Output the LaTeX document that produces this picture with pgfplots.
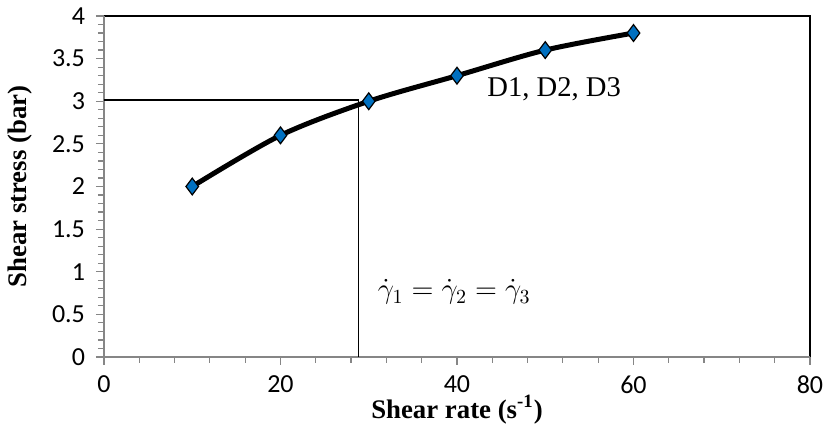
\documentclass[border=0pt]{standalone}
\usepackage{pgfplots}
\pgfplotsset{compat=1.18}
\usepackage{fontspec}
\setmainfont{Liberation Serif}
\newfontfamily\calibri{Carlito}
\definecolor{mkblue}{HTML}{0070C0}
\definecolor{axgray}{HTML}{868686}
\begin{document}
\begin{tikzpicture}
\begin{axis}[
  at={(0,0)}, anchor=south west,
  scale only axis, width=353pt, height=170.5pt,
  xmin=0, xmax=80, ymin=0, ymax=4,
  xtick={0,20,40,60,80}, ytick={0,0.5,1,1.5,2,2.5,3,3.5,4},
  minor x tick num=4, minor y tick num=4,
  tick align=outside, xtick pos=left, ytick pos=left,
  major tick length=4pt, minor tick length=3pt,
  tick style={axgray, line width=0.6pt},
  axis line style={draw=none},
  /pgf/number format/assume math mode=true,
  tick label style={font=\calibri\fontsize{13}{15}\selectfont},
  yticklabel style={xshift=-2pt},
  xticklabel style={yshift=-2pt},
  xlabel={\bfseries Shear rate (s\textsuperscript{-1})},
  ylabel={\bfseries Shear stress (bar)},
  label style={font=\fontsize{13.4}{15}\selectfont},
  xlabel style={at={(axis description cs:0.5,-0.155)}, anchor=center},
  ylabel style={at={(axis description cs:-0.119,0.5)}, anchor=center},
  clip=false,
]
\draw[black, line width=0.6pt] (rel axis cs:0,1) -- (rel axis cs:1,1) -- (rel axis cs:1,0);
\draw[axgray, line width=0.8pt] (rel axis cs:0,1) -- (rel axis cs:0,0) -- (rel axis cs:1,0);
\addplot[black, line width=0.6pt] coordinates {(0,3.015) (28.8,3.015) (28.8,0)};
\addplot[black, line width=2.5pt, smooth, tension=0.5] coordinates {
(10,2) (20,2.6) (30,3) (40,3.3) (50,3.6) (60,3.8)};
\addplot[only marks, mark=diamond*, mark size=4.2pt, mark options={fill=mkblue, draw=black, line width=0.6pt}] coordinates {
(10,2) (20,2.6) (30,3) (40,3.3) (50,3.6) (60,3.8)};
\node[anchor=base west, inner sep=0pt, font=\fontsize{14.3}{16}\selectfont] at (axis cs:43.4,3.053) {D1, D2, D3};
\node[anchor=west, inner sep=0pt, font=\fontsize{14.5}{16}\selectfont] at (axis cs:31.0,0.762) {$\dot{\gamma}_1=\dot{\gamma}_2=\dot{\gamma}_3$};
\end{axis}
\pgfresetboundingbox
\path (-52pt,-35pt) rectangle (360.5pt,178.5pt);
\end{tikzpicture}
\end{document}
